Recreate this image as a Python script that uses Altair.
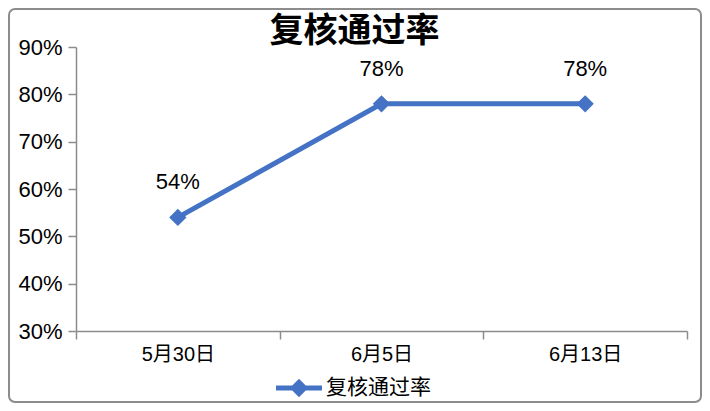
import altair as alt
import pandas as pd

dates = ["5月30日", "6月5日", "6月13日"]
rates = [0.54, 0.78, 0.78]
labels = ["54%", "78%", "78%"]
series = "复核通过率"

df = pd.DataFrame({"date": dates, "rate": rates, "label": labels, "series": [series] * 3})

FONT = "Liberation Sans, Helvetica, Arial, Noto Sans CJK SC, sans-serif"
BLUE = "#4472C4"
W, H = 611, 284
PL, PT, PR, PB = 68, 39, 15, 72

x_enc = alt.X("date:N", sort=dates, title=None, bandPosition=0.5,
              scale=alt.Scale(type="band", paddingInner=0, paddingOuter=0),
              axis=alt.Axis(labelAngle=0, tickBand="extent", tickSize=8, labelPadding=5,
                            labelFontSize=20, domainColor="#8c8c8c", tickColor="#8c8c8c",
                            labelColor="#000", grid=False, domainWidth=1.5, tickWidth=1.5))
y_enc = alt.Y("rate:Q", title=None,
              scale=alt.Scale(domain=[0.3, 0.9], nice=False, zero=False),
              axis=alt.Axis(format=".0%", values=[0.3, 0.4, 0.5, 0.6, 0.7, 0.8, 0.9], tickSize=8,
                            labelPadding=6, labelFontSize=22, domainColor="#8c8c8c",
                            tickColor="#8c8c8c", labelColor="#000", grid=False,
                            domainWidth=1.5, tickWidth=1.5))

base = alt.Chart(df)

line = base.mark_line(color=BLUE, strokeWidth=5).encode(x=x_enc, y=y_enc)

diamond_legend_path = ("M-1,-0.11L1,-0.11L1,0.11L-1,0.11Z"
                       "M-0.4,0L0,-0.4L0.4,0L0,0.4Z")

points = base.mark_point(shape="diamond", size=300, filled=True, opacity=1).encode(
    x=x_enc, y=y_enc,
    color=alt.Color("series:N", scale=alt.Scale(range=[BLUE]),
                    legend=alt.Legend(title=None, orient="none", legendX=200, legendY=318,
                                      symbolType=diamond_legend_path, symbolSize=2116,
                                      symbolStrokeWidth=0, symbolFillColor=BLUE,
                                      labelFontSize=21, labelColor="#000", labelFont=FONT,
                                      labelOffset=4)),
)

text = base.mark_text(dy=-35, fontSize=22, color="#000", font=FONT).encode(
    x=x_enc, y=y_enc, text="label:N")

border = alt.Chart(alt.Data(values=[{}])).mark_rect(
    fill=None, stroke="#8c8c8c", strokeWidth=2, cornerRadius=6
).encode(x=alt.value(-PL + 1), x2=alt.value(W + PR - 1),
         y=alt.value(-PT + 1), y2=alt.value(H + PB - 1))

chart = alt.layer(border, line, points, text).properties(
    width=W, height=H,
    title=alt.TitleParams(series, fontSize=34, fontWeight="bold", font=FONT, color="#000",
                          anchor="middle", dx=-27, offset=0, dy=58, baseline="middle"),
    autosize=alt.AutoSizeParams(type="none"),
    padding={"left": PL, "top": PT, "right": PR, "bottom": PB},
).configure_view(stroke=None).configure_axis(labelFont=FONT)

chart.save("out.html", embed_options={"renderer": "svg", "actions": False})
